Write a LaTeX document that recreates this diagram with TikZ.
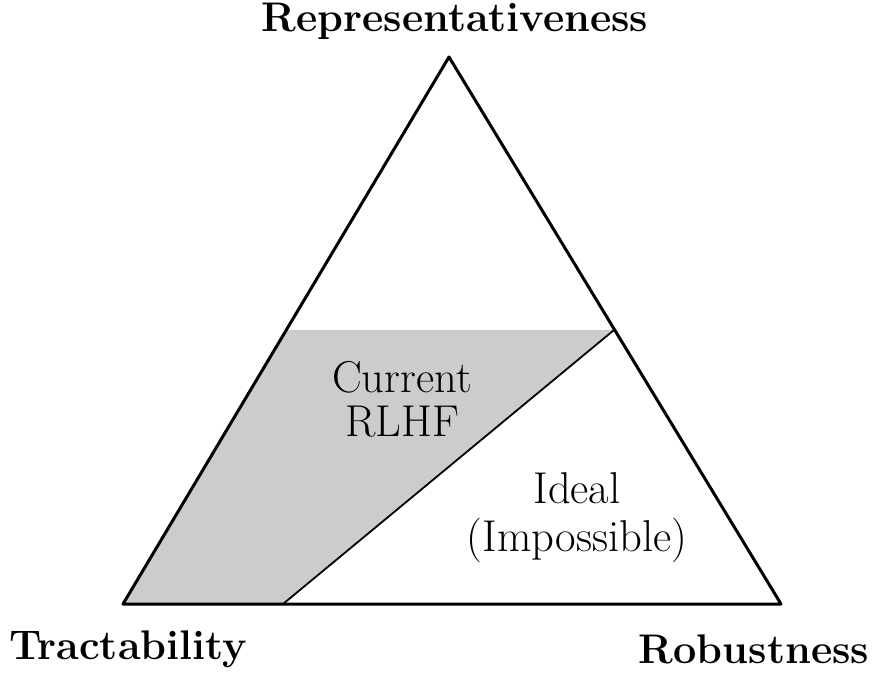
\documentclass[tikz,border=0pt]{standalone}
\usetikzlibrary{positioning}
\begin{document}
\begin{tikzpicture}[x=0.5pt, y=-0.5pt, line join=round, line cap=round, font=\fontsize{22.3}{24}\selectfont]
            \tikzset{corner/.style={font=\fontsize{20.7}{24}\selectfont\bfseries, inner sep=0pt},
                region/.style={align=center, inner sep=0pt}}
            \useasboundingbox (0,0) rectangle (872,673);
            \coordinate (top) at (449,57);
            \coordinate (left) at (123,604);
            \coordinate (right) at (781,604);
            \coordinate (cutL) at (286,330);
            \coordinate (cutR) at (614,330);
            \coordinate (foot) at (283,604);
            \fill[gray!40] (left)--(cutL)--(cutR)--(foot)--cycle;
            \draw[line width=0.9pt] (cutR)--(foot);
            \draw[line width=1.5pt] (top)--(left)--(right)--cycle;
            \node[corner] (rep) at (455,21) {Representativeness};
            \node[corner] (tra) at (128,649) {Tractability};
            \node[corner] (rob) at (754,649) {Robustness};
            \node[region] (cur) at (402,399) {Current\\[-2pt]RLHF};
            \node[region] (ide) at (577,518) {Ideal\\[0pt](Impossible)};
        \end{tikzpicture}
\end{document}
